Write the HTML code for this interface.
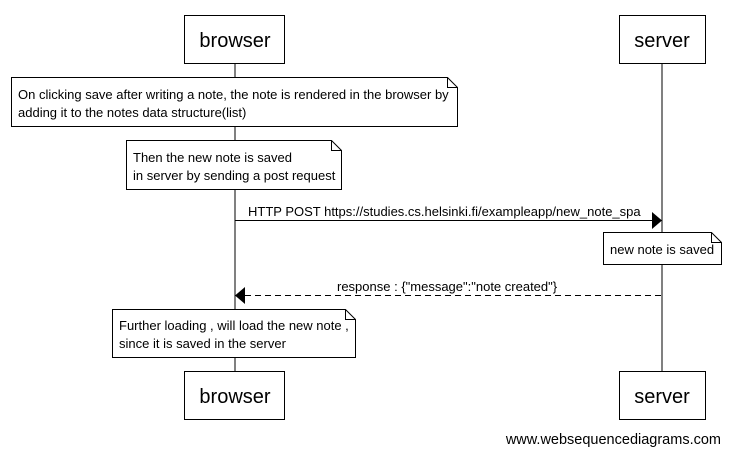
<!DOCTYPE html>
<html><head><style>body{margin:0;background:#fff}</style></head><body>
<svg width="730" height="455" xmlns="http://www.w3.org/2000/svg" font-family="Liberation Sans, Arial, sans-serif">
<g stroke="#000" fill="none">
<line x1="235" y1="63" x2="235" y2="371"/>
<line x1="662" y1="63" x2="662" y2="371"/>
<rect x="184.5" y="15.5" width="100" height="48" fill="#fff"/>
<rect x="619.5" y="15.5" width="86" height="48" fill="#fff"/>
<rect x="184.5" y="371.5" width="100" height="48" fill="#fff"/>
<rect x="619.5" y="371.5" width="86" height="48" fill="#fff"/>
<path d="M11.5 77.5H447.5L457.5 87.5V126.5H11.5Z M447.5 77.5V87.5H457.5" fill="#fff"/>
<path d="M126.5 140.5H331.5L341.5 150.5V189.5H126.5Z M331.5 140.5V150.5H341.5" fill="#fff"/>
<path d="M603.5 232.5H711.5L721.5 242.5V264.5H603.5Z M711.5 232.5V242.5H721.5" fill="#fff"/>
<path d="M112.5 309.5H345.5L355.5 319.5V357.5H112.5Z M345.5 309.5V319.5H355.5" fill="#fff"/>
<line x1="235" y1="220.5" x2="652" y2="220.5"/>
<line x1="245" y1="295.5" x2="662" y2="295.5" stroke-dasharray="6,4"/>
</g>
<polygon points="652,212 662,220.5 652,229" fill="#000"/>
<polygon points="245,287 235,295.5 245,304" fill="#000"/>
<g font-size="20" text-anchor="middle">
<text x="235" y="47">browser</text>
<text x="662" y="47">server</text>
<text x="235" y="403">browser</text>
<text x="662" y="403">server</text>
</g>
<g font-size="13">
<text x="18" y="99">On clicking save after writing a note, the note is rendered in the browser by</text>
<text x="18" y="117">adding it to the notes data structure(list)</text>
<text x="133" y="162">Then the new note is saved</text>
<text x="133" y="180">in server by sending a post request</text>
<text x="248" y="216">HTTP POST https://studies.cs.helsinki.fi/exampleapp/new_note_spa</text>
<text x="610" y="254">new note is saved</text>
<text x="337" y="291">response : {"message":"note created"}</text>
<text x="119" y="330">Further loading , will load the new note ,</text>
<text x="119" y="348">since it is saved in the server</text>
<text x="721" y="444" text-anchor="end" font-size="14.5">www.websequencediagrams.com</text>
</g>
</svg>
</body></html>
